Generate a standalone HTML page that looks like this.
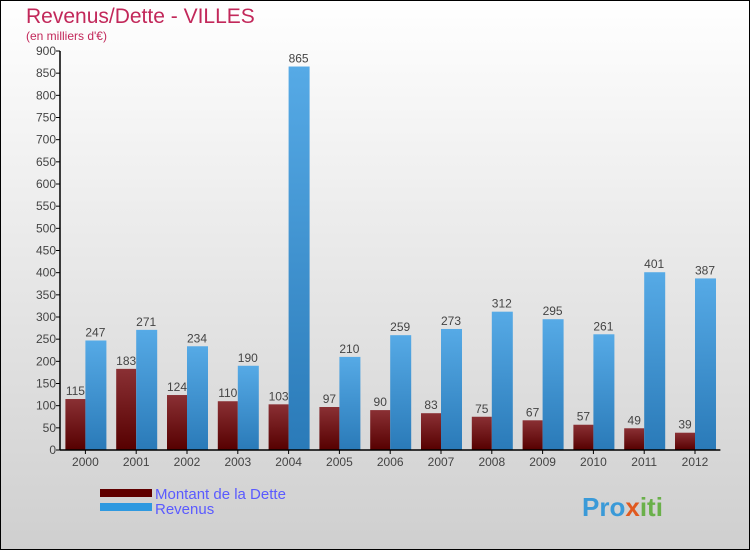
<!DOCTYPE html>
<html><head><meta charset="utf-8"><style>
body{margin:0;width:750px;height:550px;overflow:hidden;font-family:"Liberation Sans",sans-serif}
</style></head><body>
<svg width="750" height="550" xmlns="http://www.w3.org/2000/svg">
<defs>
<linearGradient id="bg" x1="0" y1="0" x2="0" y2="1"><stop offset="0" stop-color="#ffffff"/><stop offset="1" stop-color="#cfcfcf"/></linearGradient>
<linearGradient id="gd" x1="0" y1="0" x2="0" y2="1"><stop offset="0" stop-color="#8a3034"/><stop offset="1" stop-color="#560000"/></linearGradient>
<linearGradient id="gr" x1="0" y1="0" x2="0" y2="1"><stop offset="0" stop-color="#56aae6"/><stop offset="1" stop-color="#2a7ab8"/></linearGradient>
</defs>
<rect x="0.5" y="0.5" width="749" height="549" fill="url(#bg)" stroke="#000"/>
<text x="26" y="23" font-size="21" fill="#c2285a">Revenus/Dette - VILLES</text>
<text x="26" y="40" font-size="12" fill="#c2285a">(en milliers d'€)</text>
<g id="plot"></g>
<rect x="100" y="489" width="52" height="8" fill="#600000"/>
<rect x="100" y="503" width="52" height="8" fill="#2e99e0"/>
<text x="155" y="499" font-size="15" fill="#5a5aff">Montant de la Dette</text>
<text x="155" y="514" font-size="15" fill="#5a5aff">Revenus</text>
<text x="582" y="516" font-size="26" font-weight="bold" fill="#3a9ad8">Pro<tspan fill="#e05a20">x</tspan><tspan fill="#6ab04a">iti</tspan></text>
</svg>
<script>
const years=["2000","2001","2002","2003","2004","2005","2006","2007","2008","2009","2010","2011","2012"];
const debt=[115,183,124,110,103,97,90,83,75,67,57,49,39];
const revenue=[247,271,234,190,865,210,259,273,312,295,261,401,387];
const yTicks=[0,50,100,150,200,250,300,350,400,450,500,550,600,650,700,750,800,850,900];
const NS="http://www.w3.org/2000/svg";
const g=document.getElementById('plot');
const x0=60,base=450,yTop=51,ymax=900,step=50.8;
const y=v=>base-(base-yTop)*v/ymax;
function mk(t,a,txt){const e=document.createElementNS(NS,t);for(const k in a)e.setAttribute(k,a[k]);if(txt!=null)e.textContent=txt;g.appendChild(e);return e;}
yTicks.forEach(v=>{
 const l=mk('line',{x1:x0-4,x2:x0,y1:y(v),y2:y(v),stroke:'#000'});
 
 
 const t=mk('text',{x:x0-4,y:y(v)+4,'font-size':12,fill:'#444','text-anchor':'end'},v);
 
 
});
years.forEach((yr,i)=>{
 const c=x0+step*(i+0.5);
 const b1=mk('rect',{x:c-20,y:y(debt[i]),width:20,height:base-y(debt[i]),fill:'url(#gd)'});
 
 
 const b2=mk('rect',{x:c,y:y(revenue[i]),width:21,height:base-y(revenue[i]),fill:'url(#gr)'});
 
 
 const t1=mk('text',{x:c-10,y:y(debt[i])-4,'font-size':12,fill:'#444','text-anchor':'middle'},debt[i]);
 
 
 const t2=mk('text',{x:c+10,y:y(revenue[i])-4,'font-size':12,fill:'#444','text-anchor':'middle'},revenue[i]);
 
 
 const tk=mk('line',{x1:c,x2:c,y1:base,y2:base+4,stroke:'#000'});
 
 
 const xl=mk('text',{x:c,y:base+16,'font-size':12,fill:'#444','text-anchor':'middle'},yr);
 
 
});
const ya=mk('line',{x1:x0,x2:x0,y1:yTop,y2:base,stroke:'#000','stroke-width':1.5});


const xa=mk('line',{x1:x0,x2:x0+step*13,y1:base,y2:base,stroke:'#000','stroke-width':1.5});


</script>
</body></html>
